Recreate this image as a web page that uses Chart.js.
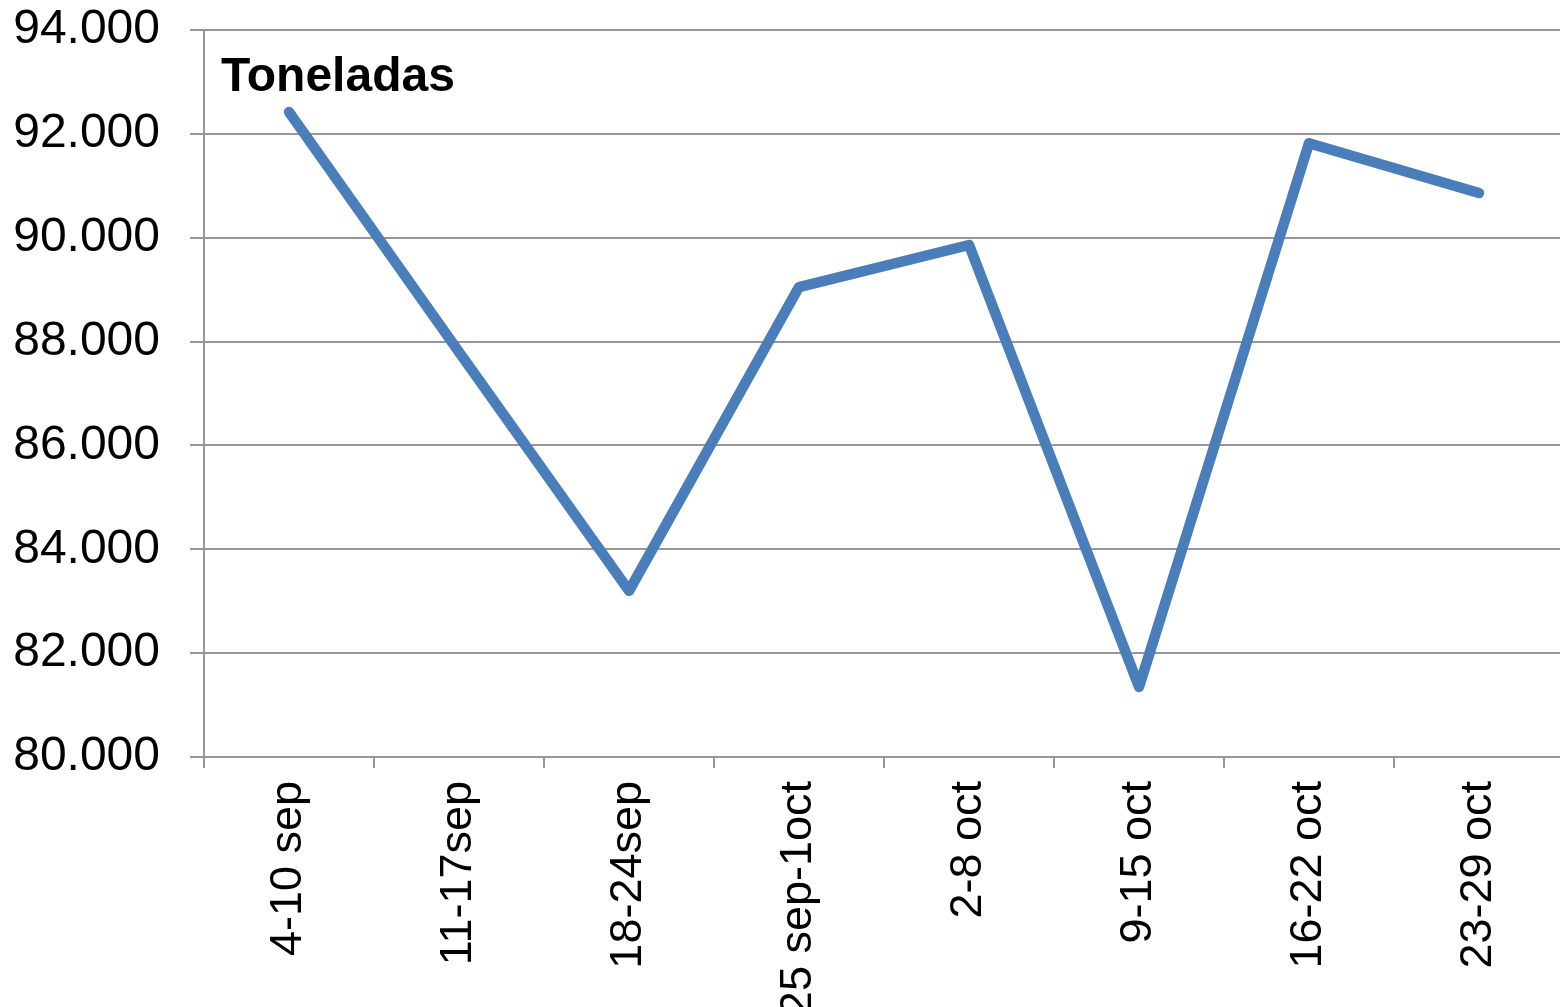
<!DOCTYPE html>
<html>
<head>
<meta charset="utf-8">
<script src="https://cdn.jsdelivr.net/npm/chart.js@4.4.1/dist/chart.umd.min.js"></script>
<style>
    html, body { margin: 0; padding: 0; background: #fff; overflow: hidden; }
    #wrap { position: relative; width: 1564px; height: 1007px; }
</style>
</head>
<body>
<div id="wrap"><canvas id="tons-chart"></canvas></div>
<script>
const weeks = ['4-10 sep', '11-17sep', '18-24sep', '25 sep-1oct', '2-8 oct', '9-15 oct', '16-22 oct', '23-29 oct'];
const tons = [92420, 87800, 83200, 89050, 89860, 81350, 91820, 90860];
const yMin = 80000;
const yMax = 94000;
const yStep = 2000;
const unitLabel = 'Toneladas';

const FONT = '"Liberation Sans", Arial, sans-serif';
const GRID = '#979797';

function formatThousands(v) {
    return String(v).replace(/\B(?=(\d{3})+(?!\d))/g, '.');
}

// draws the unit label inside the plot, top left
const unitLabelPlugin = {
    id: 'unitLabel',
    afterDraw(chart) {
        const { ctx, chartArea } = chart;
        ctx.save();
        ctx.font = 'bold 48px ' + FONT;
        ctx.fillStyle = '#000';
        ctx.textBaseline = 'alphabetic';
        ctx.fillText(unitLabel, chartArea.left + 17, chartArea.top + 61);
        ctx.restore();
    }
};

document.addEventListener('DOMContentLoaded', () => {
    const ctx = document.getElementById('tons-chart').getContext('2d');

    new Chart(ctx, {
        type: 'line',
        data: {
            labels: weeks,
            datasets: [{
                label: unitLabel,
                data: tons,
                borderColor: '#4a7ebb',
                borderWidth: 10.5,
                borderCapStyle: 'round',
                borderJoinStyle: 'round',
                pointRadius: 0,
                tension: 0,
                fill: false
            }]
        },
        options: {
            responsive: true,
            maintainAspectRatio: false,
            animation: false,
            layout: { padding: { top: 30, right: 0, bottom: 0, left: 0 } },
            plugins: {
                legend: { display: false },
                tooltip: { enabled: false }
            },
            scales: {
                x: {
                    offset: true,
                    grid: {
                        offset: true,
                        drawOnChartArea: false,
                        drawTicks: true,
                        tickLength: 11,
                        color: GRID,
                        lineWidth: 2
                    },
                    border: { color: GRID, width: 2 },
                    ticks: {
                        autoSkip: false,
                        maxRotation: 90,
                        minRotation: 90,
                        padding: 13,
                        color: '#000',
                        font: { family: FONT, size: 45 }
                    },
                    afterFit(scale) {
                        scale.height = 250;
                        scale.paddingLeft = 0;
                        scale.paddingRight = 0;
                    }
                },
                y: {
                    min: yMin,
                    max: yMax,
                    grid: {
                        color: GRID,
                        lineWidth: 2,
                        drawTicks: true,
                        tickLength: 14
                    },
                    border: { color: GRID, width: 2 },
                    ticks: {
                        stepSize: yStep,
                        padding: 30,
                        color: '#000',
                        font: { family: FONT, size: 48 },
                        callback: v => formatThousands(v)
                    },
                    afterFit(scale) {
                        scale.width = 204;
                        scale.paddingTop = 0;
                        scale.paddingBottom = 0;
                    }
                }
            }
        },
        plugins: [unitLabelPlugin]
    });
});
</script>
</body>
</html>
